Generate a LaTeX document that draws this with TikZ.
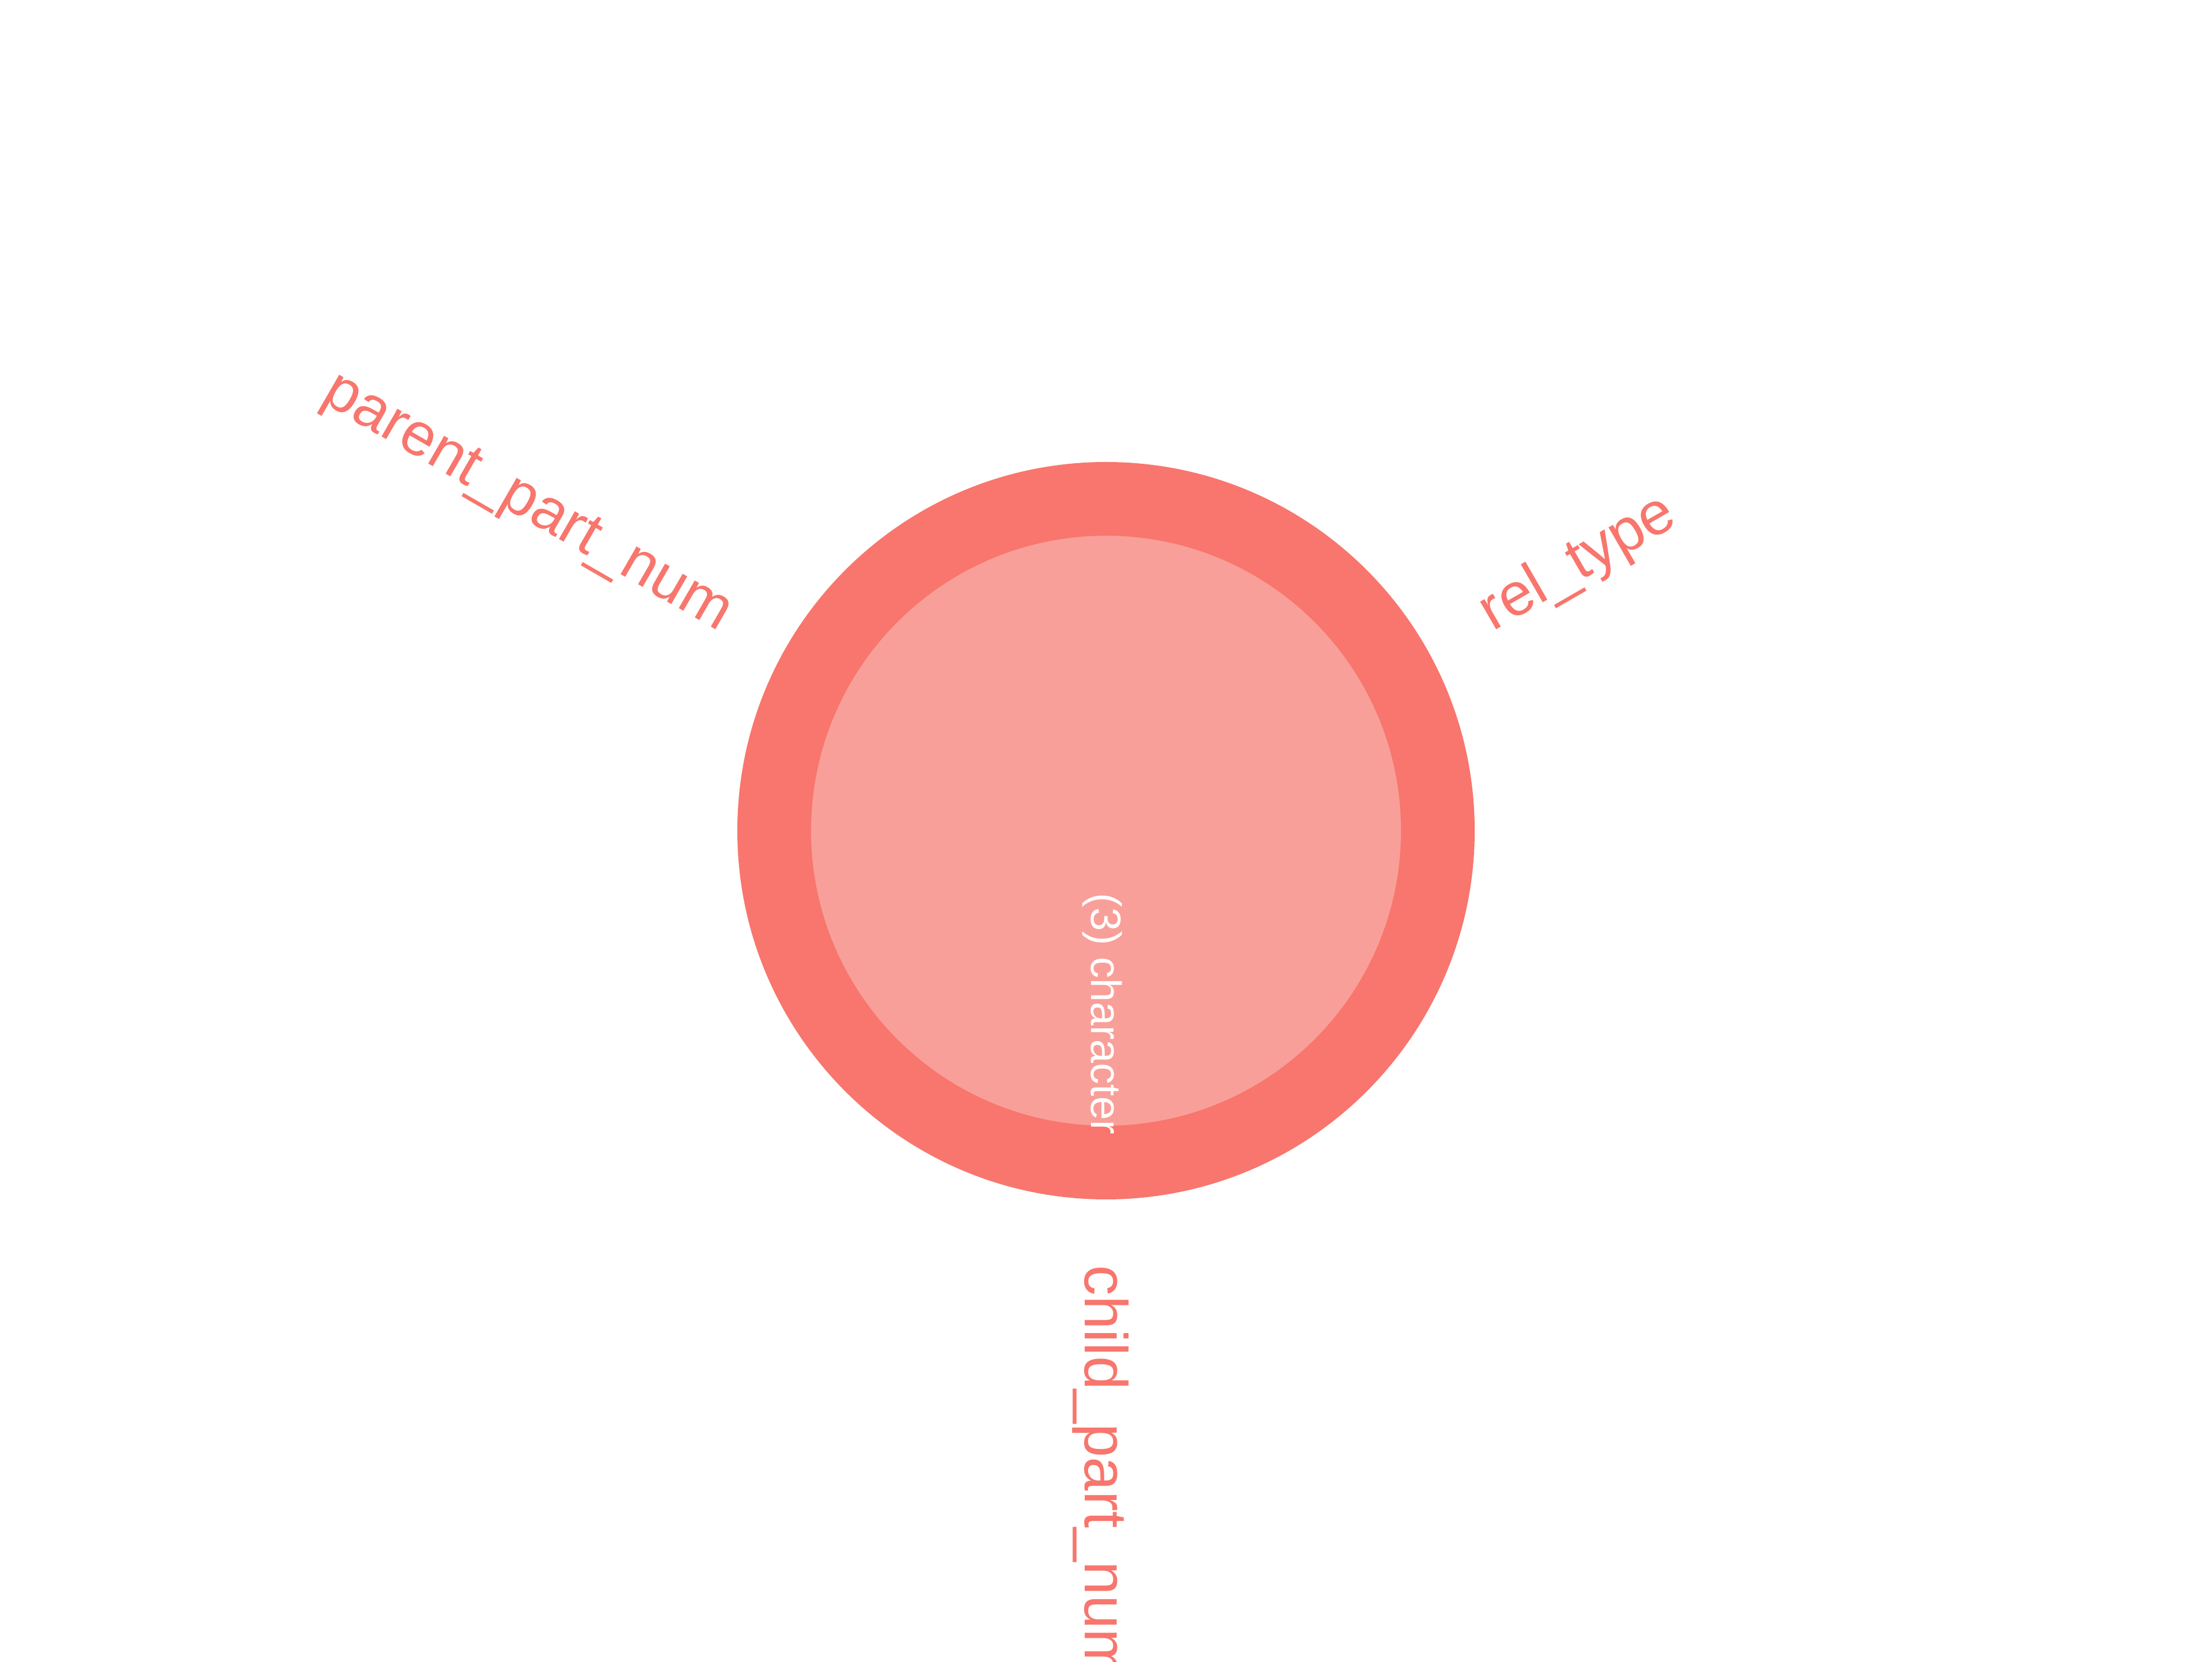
\documentclass[tikz,border=0pt]{standalone}
\usepackage{fontspec}
\setmainfont{Liberation Sans}
\usepackage{tikz}
\definecolor{ring}{HTML}{F8766D}
\definecolor{core}{RGB}{249,159,153}

\begin{document}
\begin{tikzpicture}[tag/.style={text=ring,inner sep=0pt,text height=27pt,text depth=6.3pt,font=\fontsize{29.9}{36}\selectfont}]
\useasboundingbox (0,0) rectangle (38.4,28.84);
\node [circle,fill=ring,minimum size=12.8cm,inner sep=0pt] (hub) at (19.2,14.42) {};
\node [circle,fill=core,minimum size=10.24cm,inner sep=0pt] (core) at (hub) {};
\path (hub.center) ++(270:1.08) node [anchor=west,rotate=-90,text=white,inner sep=0pt,
  text height=19pt,text depth=4.5pt,font=\fontsize{21}{25}\selectfont] (count) {(3) character};
\path (hub.center) ++(150:7.54) node [tag,anchor=east,rotate=-30] (parent) {parent\_part\_num};
\path (hub.center) ++(30:7.54) node [tag,anchor=west,rotate=30] (rel) {rel\_type};
\path (hub.center) ++(270:7.54) node [tag,anchor=west,rotate=-90] (child) {child\_part\_num};
\end{tikzpicture}
\end{document}
